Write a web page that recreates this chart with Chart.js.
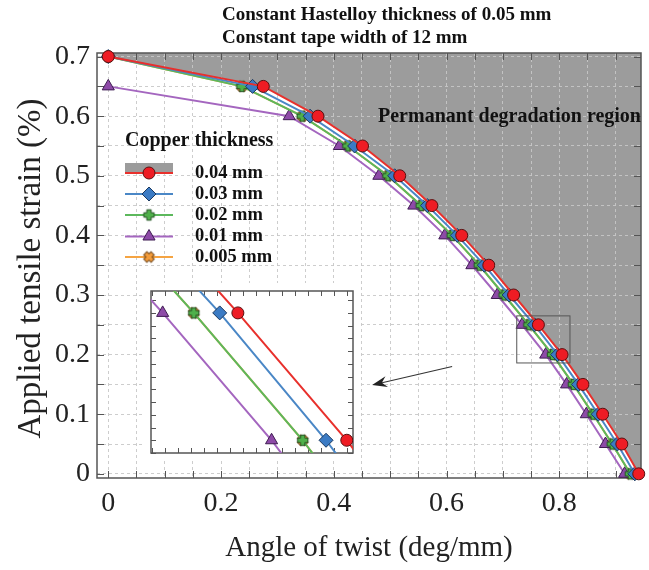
<!DOCTYPE html>
<html>
<head>
<meta charset="utf-8">
<title>Tensile strain vs angle of twist</title>
<script src="https://cdn.jsdelivr.net/npm/chart.js@4.4.0/dist/chart.umd.min.js"></script>
<style>
  body { margin: 0; background: #fff; }
  #wrap { position: relative; width: 649px; height: 570px; }
  #main { position: absolute; left: 0; top: 0; }
  #inset { position: absolute; left: 143px; top: 283px; }
</style>
</head>
<body>
<div id="wrap">
  <canvas id="main" width="649" height="570"></canvas>
  <canvas id="inset" width="218" height="178"></canvas>
</div>
<script>
// strain levels (%) – the 0.01 mm tape starts one step lower
const strainLevels = [0.7, 0.65, 0.6, 0.55, 0.5, 0.45, 0.4, 0.35, 0.3, 0.25, 0.2, 0.15, 0.1, 0.05, 0];
const strainLevels001 = [0.65, 0.6, 0.55, 0.5, 0.45, 0.4, 0.35, 0.3, 0.25, 0.2, 0.15, 0.1, 0.05, 0];

// angle of twist (deg/mm) reached at each strain level, per copper thickness
const twistCu004 = [0, 0.275, 0.372, 0.451, 0.517, 0.574, 0.627, 0.675, 0.719, 0.763, 0.805, 0.842, 0.877, 0.911, 0.941];
const twistCu003 = [0, 0.256, 0.358, 0.437, 0.508, 0.566, 0.619, 0.667, 0.711, 0.756, 0.797, 0.834, 0.869, 0.903, 0.934];
const twistCu002 = [0, 0.237, 0.344, 0.425, 0.496, 0.555, 0.610, 0.658, 0.702, 0.746, 0.788, 0.825, 0.860, 0.894, 0.926];
const twistCu001 = [0, 0.321, 0.410, 0.480, 0.542, 0.597, 0.645, 0.690, 0.734, 0.776, 0.813, 0.848, 0.882, 0.916];
const twistCu0005 = [0, 0.237, 0.344, 0.425, 0.496, 0.555, 0.610, 0.658, 0.702, 0.746, 0.788, 0.825, 0.860, 0.894, 0.926];

const thicknessLabels = ['0.04 mm', '0.03 mm', '0.02 mm', '0.01 mm', '0.005 mm'];
const xTickLabels = [0, 0.2, 0.4, 0.6, 0.8];
const yTickLabels = [0, 0.1, 0.2, 0.3, 0.4, 0.5, 0.6, 0.7];

const titleLines = ['Constant Hastelloy thickness of 0.05 mm', 'Constant tape width of 12 mm'];
const regionLabel = 'Permanant degradation region';
const legendTitle = 'Copper thickness';

const SERIF = '"Liberation Serif", "Times New Roman", serif';

// filled plus / x markers with a dark outline
function plusMarker(fill, edge, rotate) {
    const s = 15, c = document.createElement('canvas');
    c.width = c.height = s;
    const g = c.getContext('2d');
    g.translate(s / 2, s / 2);
    if (rotate) g.rotate(Math.PI / 4);
    const a = 5.2, b = 2.2;
    g.beginPath();
    g.moveTo(-b, -a); g.lineTo(b, -a); g.lineTo(b, -b); g.lineTo(a, -b);
    g.lineTo(a, b); g.lineTo(b, b); g.lineTo(b, a); g.lineTo(-b, a);
    g.lineTo(-b, b); g.lineTo(-a, b); g.lineTo(-a, -b); g.lineTo(-b, -b);
    g.closePath();
    g.fillStyle = fill;
    g.fill();
    g.lineWidth = 1;
    g.strokeStyle = edge;
    g.stroke();
    return c;
}

const seriesStyles = [
    { line: '#e8302c', fill: '#ee1c24', edge: '#5a1010', point: 'circle', radius: 6 },
    { line: '#4a87c6', fill: '#3b7bc4', edge: '#1c3a60', point: 'rectRot', radius: 7 },
    { line: '#5cb85c', fill: '#4fb04a', edge: '#225222', point: plusMarker('#4fb04a', '#225222', false), radius: 6 },
    { line: '#a466bf', fill: '#8e4aa8', edge: '#3f1d52', point: 'triangle', radius: 7 },
    { line: '#f5a442', fill: '#f39c3b', edge: '#6e4010', point: plusMarker('#f39c3b', '#6e4010', true), radius: 6 }
];

const seriesData = [
    [twistCu004, strainLevels],
    [twistCu003, strainLevels],
    [twistCu002, strainLevels],
    [twistCu001, strainLevels001],
    [twistCu0005, strainLevels]
];

function toPoints(xs, ys) {
    return xs.map((x, i) => ({ x: x, y: ys[i] }));
}

function buildDatasets() {
    return seriesData.map(([xs, ys], i) => {
        const st = seriesStyles[i];
        return {
            label: thicknessLabels[i],
            data: toPoints(xs, ys),
            borderColor: st.line,
            borderWidth: 2,
            backgroundColor: st.fill,
            pointBackgroundColor: st.fill,
            pointBorderColor: st.edge,
            pointBorderWidth: 1,
            pointStyle: st.point,
            pointRadius: st.radius,
            pointHoverRadius: st.radius,
            tension: 0,
            clip: false
        };
    });
}

// gray area beyond the 0.04 mm curve, painted under the grid
const degradationRegion = {
    id: 'degradationRegion',
    beforeDraw(chart) {
        const { ctx, chartArea: a, scales: { x, y } } = chart;
        const pts = toPoints(twistCu004, strainLevels);
        ctx.save();
        ctx.fillStyle = '#9c9c9c';
        ctx.beginPath();
        ctx.moveTo(x.getPixelForValue(pts[0].x), a.top);
        pts.forEach(p => ctx.lineTo(x.getPixelForValue(p.x), y.getPixelForValue(p.y)));
        ctx.lineTo(x.getPixelForValue(pts[pts.length - 1].x), a.bottom);
        ctx.lineTo(a.right, a.bottom);
        ctx.lineTo(a.right, a.top);
        ctx.closePath();
        ctx.fill();
        ctx.restore();
    }
};

// frame with inward ticks on all four sides
const frameTicks = {
    id: 'frameTicks',
    beforeDatasetsDraw(chart, args, opts) {
        const { ctx, chartArea: a, scales: { x, y } } = chart;
        ctx.save();
        ctx.strokeStyle = opts.color;
        ctx.lineWidth = 1;
        ctx.beginPath();
        x.ticks.forEach(t => {
            const px = Math.round(x.getPixelForValue(t.value)) + 0.5;
            ctx.moveTo(px, a.bottom); ctx.lineTo(px, a.bottom - opts.len);
            ctx.moveTo(px, a.top); ctx.lineTo(px, a.top + opts.len);
        });
        y.ticks.forEach(t => {
            const py = Math.round(y.getPixelForValue(t.value)) + 0.5;
            ctx.moveTo(a.left, py); ctx.lineTo(a.left + opts.len, py);
            ctx.moveTo(a.right, py); ctx.lineTo(a.right - opts.len, py);
        });
        ctx.stroke();
        ctx.lineWidth = opts.width;
        ctx.strokeRect(a.left, a.top, a.width, a.height);
        ctx.restore();
    }
};

// zoom box, arrow, titles, region label and legend
const annotations = {
    id: 'annotations',
    afterDatasetsDraw(chart) {
        const { ctx, chartArea: a, scales: { x, y } } = chart;
        ctx.save();

        // box marking the magnified part
        ctx.strokeStyle = '#555';
        ctx.lineWidth = 1;
        const bx0 = x.getPixelForValue(0.7246), bx1 = x.getPixelForValue(0.819);
        const by0 = y.getPixelForValue(0.265), by1 = y.getPixelForValue(0.186);
        ctx.strokeRect(bx0, by0, bx1 - bx0, by1 - by0);

        // arrow pointing to the inset
        const ax0 = x.getPixelForValue(0.61), ay0 = y.getPixelForValue(0.18);
        const ax1 = x.getPixelForValue(0.468), ay1 = y.getPixelForValue(0.149);
        const ang = Math.atan2(ay1 - ay0, ax1 - ax0);
        ctx.strokeStyle = '#333';
        ctx.fillStyle = '#222';
        ctx.lineWidth = 1.2;
        ctx.beginPath();
        ctx.moveTo(ax0, ay0);
        ctx.lineTo(ax1 - Math.cos(ang) * 8, ay1 - Math.sin(ang) * 8);
        ctx.stroke();
        ctx.beginPath();
        ctx.moveTo(ax1, ay1);
        ctx.lineTo(ax1 - Math.cos(ang) * 15 + Math.sin(ang) * 5.5, ay1 - Math.sin(ang) * 15 - Math.cos(ang) * 5.5);
        ctx.lineTo(ax1 - Math.cos(ang) * 10, ay1 - Math.sin(ang) * 10);
        ctx.lineTo(ax1 - Math.cos(ang) * 15 - Math.sin(ang) * 5.5, ay1 - Math.sin(ang) * 15 + Math.cos(ang) * 5.5);
        ctx.closePath();
        ctx.fill();

        // header
        ctx.fillStyle = '#111';
        ctx.font = 'bold 19px ' + SERIF;
        ctx.textAlign = 'left';
        ctx.textBaseline = 'middle';
        ctx.fillText(titleLines[0], 222, 15);
        ctx.fillText(titleLines[1], 222, 38);

        // region label
        ctx.font = 'bold 20px ' + SERIF;
        ctx.fillText(regionLabel, 378, 117);

        // legend
        ctx.font = 'bold 20px ' + SERIF;
        ctx.fillText(legendTitle, 125, 141);
        const rowY = [173, 194, 215, 236.5, 257];
        ctx.fillStyle = '#9c9c9c';
        ctx.fillRect(125, 163, 48, 10);
        chart.data.datasets.forEach((ds, i) => {
            const yy = rowY[i];
            ctx.strokeStyle = ds.borderColor;
            ctx.lineWidth = 2;
            ctx.beginPath();
            ctx.moveTo(125, yy);
            ctx.lineTo(173, yy);
            ctx.stroke();
            ctx.fillStyle = ds.pointBackgroundColor;
            ctx.strokeStyle = ds.pointBorderColor;
            ctx.lineWidth = 1;
            Chart.helpers.drawPoint(ctx, {
                pointStyle: ds.pointStyle, radius: ds.pointRadius, rotation: 0, borderWidth: 1
            }, 149, yy);
            ctx.fillStyle = '#111';
            ctx.font = 'bold 18.5px ' + SERIF;
            ctx.fillText(ds.label, 195, yy);
        });

        // axis titles
        ctx.fillStyle = '#222';
        ctx.font = '29px ' + SERIF;
        ctx.textAlign = 'center';
        ctx.fillText('Angle of twist (deg/mm)', (a.left + a.right) / 2, 548);
        ctx.font = '33px ' + SERIF;
        ctx.translate(31, (a.top + a.bottom) / 2 + 3);
        ctx.rotate(-Math.PI / 2);
        ctx.fillText('Applied tensile strain (%)', 0, 0);
        ctx.restore();
    }
};

function tickText(list) {
    return v => list.some(t => Math.abs(t - v) < 1e-6) ? String(+v.toFixed(2)) : '';
}

new Chart(document.getElementById('main'), {
    type: 'line',
    data: { datasets: buildDatasets() },
    options: {
        responsive: false,
        animation: false,
        events: [],
        layout: { padding: { top: 53, right: 2, left: 0, bottom: 0 } },
        plugins: {
            legend: { display: false },
            tooltip: { enabled: false },
            frameTicks: { color: '#555', len: 7, width: 1.5 }
        },
        scales: {
            x: {
                type: 'linear',
                min: -0.02,
                max: 0.945,
                grid: { color: 'rgba(200,200,200,0.9)', drawTicks: false },
                border: { display: false, dash: [3, 3] },
                ticks: {
                    stepSize: 0.05,
                    includeBounds: false,
                    autoSkip: false,
                    maxRotation: 0,
                    padding: 9,
                    color: '#222',
                    font: { family: SERIF, size: 28 },
                    callback: tickText(xTickLabels)
                },
                afterFit: s => { s.height = 92; }
            },
            y: {
                type: 'linear',
                min: -0.007,
                max: 0.706,
                grid: { color: 'rgba(200,200,200,0.9)', drawTicks: false },
                border: { display: false, dash: [3, 3] },
                ticks: {
                    stepSize: 0.05,
                    includeBounds: false,
                    autoSkip: false,
                    padding: 7,
                    color: '#222',
                    font: { family: SERIF, size: 28 },
                    callback: tickText(yTickLabels)
                },
                afterFit: s => { s.width = 97; }
            }
        }
    },
    plugins: [degradationRegion, frameTicks, annotations]
});

// magnified view of the curves around 0.2 - 0.25 % strain
const insetBackground = {
    id: 'insetBackground',
    beforeDraw(chart) {
        const { ctx, width, height } = chart;
        ctx.save();
        ctx.fillStyle = '#fff';
        ctx.fillRect(0, 0, width, height);
        ctx.restore();
    }
};

new Chart(document.getElementById('inset'), {
    type: 'line',
    data: { datasets: buildDatasets().map(d => Object.assign(d, { clip: 0 })) },
    options: {
        responsive: false,
        animation: false,
        events: [],
        layout: { padding: 0 },
        plugins: {
            legend: { display: false },
            tooltip: { enabled: false },
            frameTicks: { color: '#555', len: 5, width: 1.5 }
        },
        scales: {
            x: {
                type: 'linear',
                min: 0.7295,
                max: 0.8074,
                grid: { display: false, drawTicks: false },
                border: { display: false },
                ticks: { display: false, stepSize: 0.005, includeBounds: false, autoSkip: false },
                afterFit: s => { s.height = 0; }
            },
            y: {
                type: 'linear',
                min: 0.195,
                max: 0.2586,
                grid: { display: false, drawTicks: false },
                border: { display: false },
                ticks: { display: false, stepSize: 0.005, includeBounds: false, autoSkip: false },
                afterFit: s => { s.width = 0; }
            }
        }
    },
    plugins: [insetBackground, frameTicks]
});
</script>
</body>
</html>
